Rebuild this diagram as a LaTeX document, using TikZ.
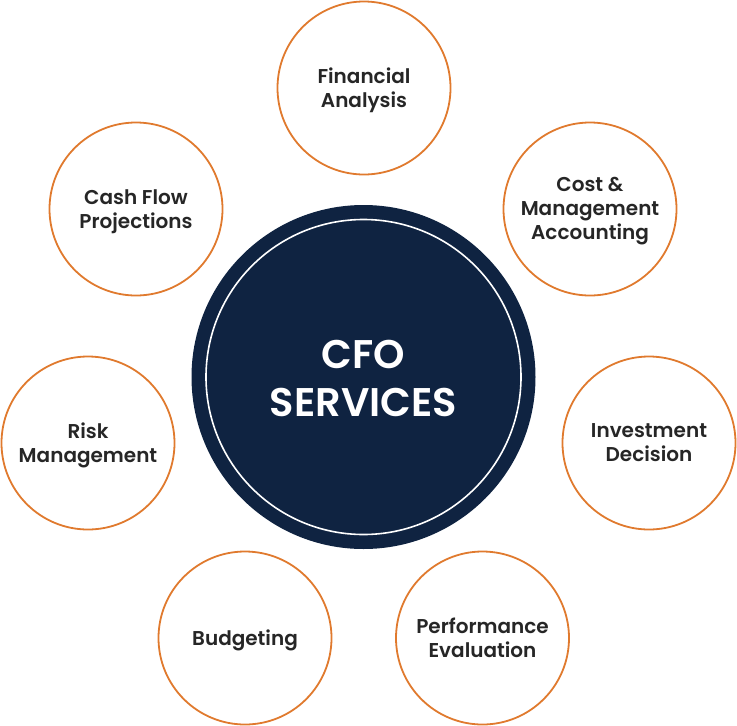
\documentclass[tikz,border=0pt]{standalone}
\usepackage{fontspec}
\setmainfont{Poppins SemiBold}
\definecolor{navy}{HTML}{0F2341}
\definecolor{orangeline}{HTML}{E07A2E}
\definecolor{txt}{HTML}{262626}
\tikzset{
  item/.style={circle, draw=orangeline, line width=1.8pt, fill=white,
    minimum size=173pt, inner sep=0pt,
    label={[text=txt, align=center, font=\fontsize{20}{24}\selectfont, yshift=-2.5pt]center:#1\vphantom{y}}},
  hub/.style={circle, fill=navy, minimum size=344pt, inner sep=0pt},
  hubring/.style={circle, draw=white, line width=1.6pt, minimum size=315pt, inner sep=0pt,
    label={[text=white, align=center, font=\fontsize{40}{48}\selectfont, yshift=-1.5pt]center:#1}}
}
\begin{document}
\begin{tikzpicture}[x=1pt,y=-1pt]
\useasboundingbox (0,0) rectangle (737,726);
\node[hub] (hub) at (363.5,377) {};
\node[hubring={CFO\\SERVICES}] (ring) at (363.5,377) {};
\node[item={Financial\\Analysis}] (fa) at (364,88) {};
\node[item={Cost \&\\Management\\Accounting}] (cma) at (590,209) {};
\node[item={Investment\\Decision}] (inv) at (649,443) {};
\node[item={Performance\\Evaluation}] (perf) at (482.5,638) {};
\node[item={Budgeting}] (bud) at (245,638) {};
\node[item={Risk\\Management}] (risk) at (88,443) {};
\node[item={Cash Flow\\Projections}] (cash) at (136,209) {};
\end{tikzpicture}
\end{document}
